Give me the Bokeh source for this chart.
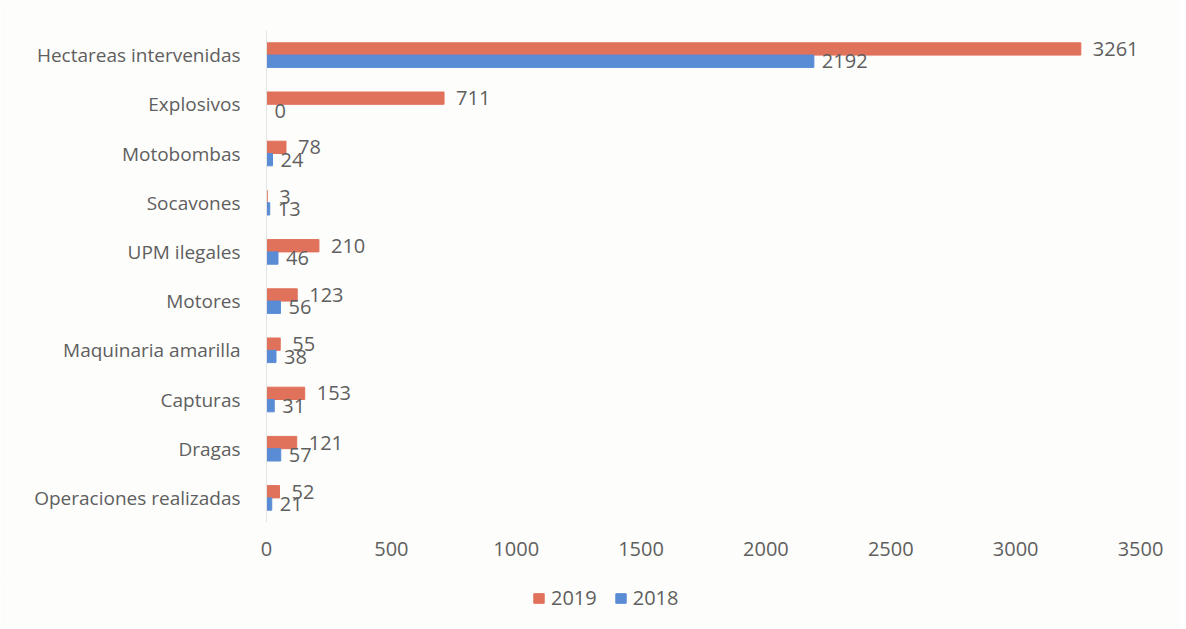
from bokeh.plotting import figure
from bokeh.layouts import column
from bokeh.models import ColumnDataSource, Legend, LegendItem, FixedTicker, Range1d
from bokeh.transform import dodge
from bokeh.core.properties import value
from bokeh.embed import file_html
from bokeh.resources import INLINE

categories = ["Hectareas intervenidas", "Explosivos", "Motobombas", "Socavones",
              "UPM ilegales", "Motores", "Maquinaria amarilla", "Capturas",
              "Dragas", "Operaciones realizadas"]
v2019 = [3261, 711, 78, 3, 210, 123, 55, 153, 121, 52]
v2018 = [2192, 0, 24, 13, 46, 56, 38, 31, 57, 21]
series = ["2019", "2018"]
xticks = [0, 500, 1000, 1500, 2000, 2500, 3000, 3500]

C19 = "#E0715A"
C18 = "#5A8CD6"
TXT = "#5F5F5F"
BG = "#FDFDFB"
FONT = "Open Sans"

factors = list(reversed(categories))
src = ColumnDataSource(dict(cat=categories, v19=v2019, v18=v2018,
                            l19=[str(v) for v in v2019], l18=[str(v) for v in v2018]))

p = figure(frame_width=874, frame_height=492, y_range=factors, x_range=Range1d(0, 3500),
           output_backend="svg", toolbar_location=None,
           min_border_left=266, min_border_right=40, min_border_top=30, min_border_bottom=60)
p.background_fill_color = BG
p.border_fill_color = BG
p.outline_line_color = None
p.grid.grid_line_color = None

p.hbar(y=dodge("cat", 0.125, range=p.y_range), right="v19", left=0, height=0.25,
       color=C19, source=src)
p.hbar(y=dodge("cat", -0.125, range=p.y_range), right="v18", left=0, height=0.25,
       color=C18, source=src)

p.text(x="v19", y=dodge("cat", 0.125, range=p.y_range), text="l19", source=src,
       x_offset=12, text_baseline="middle", text_font=value(FONT),
       text_font_size="20px", text_color=TXT)
p.text(x="v18", y=dodge("cat", -0.13, range=p.y_range), text="l18", source=src,
       x_offset=8, text_baseline="middle", text_font=value(FONT),
       text_font_size="20px", text_color=TXT)

p.xaxis.ticker = FixedTicker(ticks=xticks)
for ax in (p.xaxis, p.yaxis):
    ax.major_tick_line_color = None
    ax.minor_tick_line_color = None
    ax.major_label_text_font = FONT
    ax.major_label_text_color = TXT
p.xaxis.axis_line_color = None
p.yaxis.axis_line_color = "#E4E4E4"
p.xaxis.major_label_text_font_size = "20px"
p.yaxis.major_label_text_font_size = "19px"
p.xaxis.major_label_standoff = 13
p.yaxis.major_label_standoff = 20

# legend strip below the chart (its frame is aligned with the chart's frame)
lg = figure(width=1180, height=46, x_range=Range1d(0, 1), y_range=Range1d(0, 1),
            output_backend="svg", toolbar_location=None,
            x_axis_location=None, y_axis_location=None,
            min_border=0, min_border_left=0, min_border_right=0,
            min_border_top=0, min_border_bottom=0)
lg.background_fill_color = BG
lg.border_fill_color = BG
lg.outline_line_color = None
lg.grid.grid_line_color = None
dummy = ColumnDataSource(dict(y=[-5], right=[0]))  # off-view, only feeds the legend
g19 = lg.hbar(y="y", right="right", left=0, height=0.1, color=C19, source=dummy)
g18 = lg.hbar(y="y", right="right", left=0, height=0.1, color=C18, source=dummy)
legend = Legend(items=[LegendItem(label=series[0], renderers=[g19]),
                       LegendItem(label=series[1], renderers=[g18])],
                orientation="horizontal", location=(266, 17),
                label_text_font=FONT, label_text_font_size="20px", label_text_color=TXT,
                glyph_width=13, glyph_height=12, spacing=17, label_standoff=6,
                background_fill_alpha=0, border_line_color=None, margin=0, padding=0)
lg.add_layout(legend, "center")

layout = column(p, lg, spacing=0)
open("out.html", "w").write(file_html(layout, INLINE))
